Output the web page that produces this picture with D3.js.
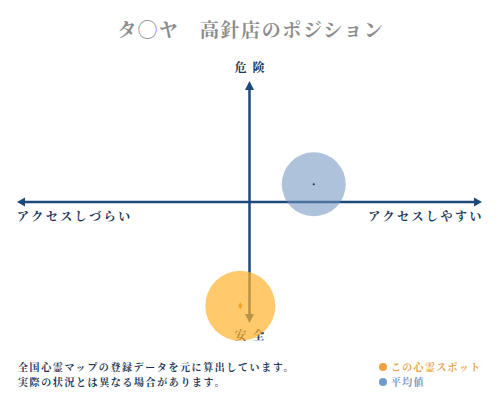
<!DOCTYPE html>
<html><head><meta charset="utf-8">
<script src="https://cdn.jsdelivr.net/npm/d3@7"></script>
<style>
html,body{margin:0;padding:0;background:#fff;}
svg{display:block;}
</style></head>
<body>
<svg id="c" width="500" height="400"></svg>
<script>
const title = "タ◯ヤ　高針店のポジション";
const axisLabels = {top:"危険", bottom:"安全", left:"アクセスしづらい", right:"アクセスしやすい"};
const seriesNames = ["この心霊スポット", "平均値"];
const accessValues = [-4, 28];   // x: access ease (-100..100)
const dangerValues = [-88, 15];  // y: danger (-100..100)
const notes = ["全国心霊マップの登録データを元に算出しています。", "実際の状況とは異なる場合があります。"];

const svg = d3.select("#c");
const navy = "#1d4a7a";
const font = "'Noto Serif CJK JP','Noto Sans CJK JP',serif";

const x = d3.scaleLinear().domain([-100,100]).range([20,479]);
const y = d3.scaleLinear().domain([-100,100]).range([320,84]);
const cx = x(0), cy = y(0);

// title
svg.append("text").attr("x",251).attr("y",37).attr("text-anchor","middle")
  .attr("font-family",font).attr("font-size",19).attr("font-weight","bold")
  .attr("letter-spacing",1.6).attr("fill","#8c8c8c").text(title);

// axes
const ax = svg.append("g");
ax.append("line").attr("x1",x(-100)).attr("x2",x(100)).attr("y1",cy).attr("y2",cy)
  .attr("stroke",navy).attr("stroke-width",2.5);
ax.append("line").attr("x1",cx).attr("x2",cx).attr("y1",y(100)).attr("y2",y(-100))
  .attr("stroke",navy).attr("stroke-width",2.5);
const ah = (pts)=>ax.append("path").attr("d","M"+pts.map(p=>p.join(",")).join("L")+"Z").attr("fill",navy);
ah([[x(-100)-3,cy],[x(-100)+5,cy-4.5],[x(-100)+5,cy+4.5]]);
ah([[x(100)+3,cy],[x(100)-5,cy-4.5],[x(100)-5,cy+4.5]]);
ah([[cx,y(100)-3],[cx-4.5,y(100)+6],[cx+4.5,y(100)+6]]);
ah([[cx,y(-100)+3],[cx-4.5,y(-100)-6],[cx+4.5,y(-100)-6]]);

// axis labels
const lab = (t,xx,yy,anchor,ls)=>svg.append("text").attr("x",xx).attr("y",yy).attr("text-anchor",anchor)
  .attr("font-family",font).attr("font-size",12).attr("font-weight","bold").attr("letter-spacing",ls)
  .attr("fill","#1a3556").text(t);
lab(axisLabels.top,cx+3,72,"middle",6);
lab(axisLabels.bottom,cx+3,340,"middle",6);
lab(axisLabels.left,17,221,"start",2.5);
lab(axisLabels.right,484,221,"end",2.5);

// bubbles
const fills = ["#ffb22e","#6c90bf"];
const ops = [0.7,0.55];
const radii = [35,32];
const dots = ["#f5a020","#1a2a40"];
[0,1].forEach(i=>{
  svg.append("circle").attr("cx",x(accessValues[i])).attr("cy",y(dangerValues[i])).attr("r",radii[i])
    .attr("fill",fills[i]).attr("fill-opacity",ops[i]);
});
svg.append("path").attr("d",d3.symbol(d3.symbolDiamond,14)()).attr("transform",`translate(${x(accessValues[0])},${y(dangerValues[0])})`).attr("fill",dots[0]);
svg.append("circle").attr("cx",x(accessValues[1])).attr("cy",y(dangerValues[1])).attr("r",1).attr("fill",dots[1]);

// notes
notes.forEach((t,i)=>svg.append("text").attr("x",18).attr("y",371+i*15)
  .attr("font-family",font).attr("font-size",10).attr("font-weight","bold").attr("letter-spacing",1.6)
  .attr("fill","#1a3556").text(t));

// legend
const legC = ["#f0a040","#6f9cc8"];
const legT = ["#e8a04a","#7a9cc0"];
seriesNames.forEach((t,i)=>{
  svg.append("circle").attr("cx",383).attr("cy",367+i*15).attr("r",4).attr("fill",legC[i]);
  svg.append("text").attr("x",391).attr("y",371+i*15).attr("font-family",font).attr("font-size",10)
    .attr("font-weight","bold").attr("letter-spacing",1.3).attr("fill",legT[i]).text(t);
});
</script>
</body></html>
